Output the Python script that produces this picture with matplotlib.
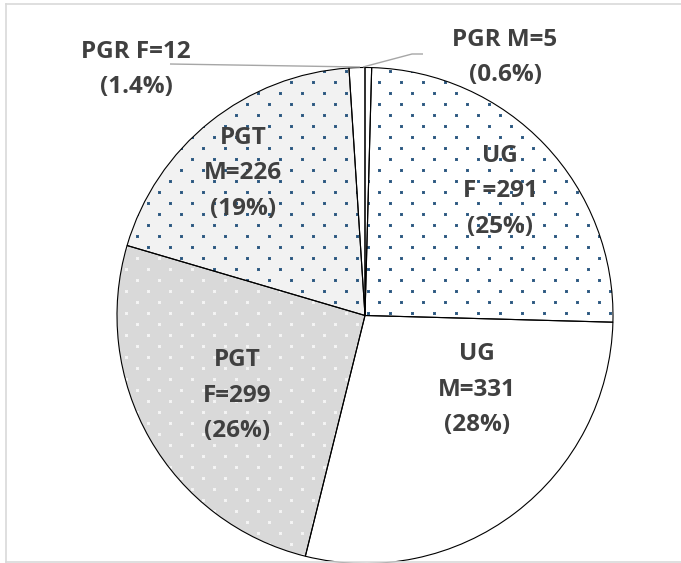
import numpy as np
import matplotlib
matplotlib.use("Agg")
import matplotlib.pyplot as plt
import matplotlib.hatch as mhatch
from matplotlib import font_manager as fm
from matplotlib.path import Path
from matplotlib.lines import Line2D

# ---- data -------------------------------------------------------------
groups = ["PGR", "UG", "UG", "PGT", "PGT", "PGR"]
sex_tags = ["M", "F ", "M", "F", "M", "F"]
counts = [5, 291, 331, 299, 226, 12]
pct_labels = ["0.6%", "25%", "28%", "26%", "19%", "1.4%"]

# ---- styling ----------------------------------------------------------
face_colors = ["#ffffff", "#ffffff", "#ffffff", "#d9d9d9", "#f2f2f2", "#ffffff"]
dot_colors = [None, "#1f4e79", None, "#f7f7f7", "#1f4e79", None]
text_color = "#404040"

W, H = 681, 563
DPI = 110                      # hatch tile = 1 inch = 110 px
PT = 100 / DPI                 # keep sizes as if drawn at 100 dpi
CENTER = (365, H - 315.5)
RADIUS = 248
LINE_PX = 35.5

# label anchors (x, y of the middle line) in pixels from the top-left
inner_pos = {1: (500, 191), 2: (477, 390), 3: (237, 396), 4: (243, 173)}
outer_pos = {0: (505, 57.5), 5: (136, 69.5)}
leaders = {0: [(363, 67), (412, 54), (423, 54)],
           5: [(170, 64), (360, 67)]}


def _weight(entry):
    wt = entry.weight
    if isinstance(wt, str):
        wt = fm.weight_dict.get(wt, 400)
    return int(wt)


def bold_font(candidates, size):
    """FontProperties pointing at a real bold face file."""
    for fam in candidates:
        faces = [e for e in fm.fontManager.ttflist
                 if e.name == fam and e.style == "normal"
                 and 600 <= _weight(e) <= 900]
        if faces:
            face = min(faces, key=lambda e: abs(_weight(e) - 700))
            return fm.FontProperties(fname=face.fname, size=size)
    return fm.FontProperties(family="DejaVu Sans", weight="bold", size=size)


FONT = bold_font(["Open Sans", "Lato", "Noto Sans", "Roboto",
                  "Liberation Sans"], 17.5 * PT)


class StaggeredDots(mhatch.HatchPatternBase):
    """Small filled squares on a staggered grid, denser vertically."""
    cols_per_inch = 5
    rows_per_inch = 10
    size = 0.022

    def __init__(self, hatch, density):
        n = hatch.count(".")
        if n == 0:
            self.num_vertices = 0
            return
        cols = self.cols_per_inch * n
        rows = self.rows_per_inch * n
        centers = []
        for r in range(rows):
            shift = 0.5 if r % 2 else 0.0
            for c in range(cols):
                centers.append(((c + 0.25 + shift) / cols, (r + 0.5) / rows))
        self.centers = np.array(centers)
        sq = Path.unit_rectangle()
        self.shape_vertices = (sq.vertices - 0.5) * self.size
        self.shape_codes = sq.codes
        self.num_vertices = len(self.centers) * len(self.shape_vertices)

    def set_vertices_and_codes(self, vertices, codes):
        k = len(self.shape_vertices)
        for i, (x, y) in enumerate(self.centers):
            vertices[i * k:(i + 1) * k] = self.shape_vertices + (x, y)
            codes[i * k:(i + 1) * k] = self.shape_codes


mhatch._hatch_types = [t for t in mhatch._hatch_types
                       if t is not mhatch.SmallFilledCircles] + [StaggeredDots]
plt.rcParams["hatch.linewidth"] = 0.35

fig = plt.figure(figsize=(W / DPI, H / DPI), dpi=DPI)
fig.patch.set_facecolor("white")
ax = fig.add_axes([0, 0, 1, 1])

# filled, dotted wedges
fill_wedges, _ = ax.pie(counts, startangle=90, counterclock=False,
                        radius=RADIUS, center=CENTER, colors=face_colors,
                        wedgeprops=dict(linewidth=0))
for w, dc in zip(fill_wedges, dot_colors):
    if dc is not None:
        w.set_edgecolor(dc)
        w.set_hatch(".")
        w.set_linewidth(0)

# outlines on top
ax.pie(counts, startangle=90, counterclock=False, radius=RADIUS,
       center=CENTER, colors=["none"] * len(counts),
       wedgeprops=dict(edgecolor="black", linewidth=0.8 * PT, fill=False))

ax.set_xlim(0, W)
ax.set_ylim(0, H)
ax.set_aspect("equal")
ax.axis("off")

text_kw = dict(fontproperties=FONT, color=text_color, ha="center",
               va="center")

for i, (x, y) in inner_pos.items():
    lines = [groups[i], f"{sex_tags[i]}={counts[i]}", f"({pct_labels[i]})"]
    for j, s in enumerate(lines):
        ax.text(x, H - (y + (j - 1) * LINE_PX), s, **text_kw)

for i, (x, y) in outer_pos.items():
    lines = [f"{groups[i]} {sex_tags[i]}={counts[i]}", f"({pct_labels[i]})"]
    for j, s in enumerate(lines):
        ax.text(x, H - (y + (j - 0.5) * LINE_PX), s, **text_kw)

for i, pts in leaders.items():
    xs = [p[0] for p in pts]
    ys = [H - p[1] for p in pts]
    ax.plot(xs, ys, color="#a6a6a6", linewidth=1.0 * PT,
            solid_capstyle="butt")

# chart-area border (open on the right)
border = "#d9d9d9"
bx0, by_top, by_bot = 5.5, 4, 562
for xs, ys in [([bx0, bx0], [by_bot, by_top]),
               ([bx0, W + 5], [by_top, by_top]),
               ([bx0, W + 5], [by_bot, by_bot])]:
    fig.add_artist(Line2D([x / W for x in xs], [1 - y / H for y in ys],
                          color=border, linewidth=1.2 * PT))

fig.savefig("out.png", dpi=DPI, facecolor="white")
